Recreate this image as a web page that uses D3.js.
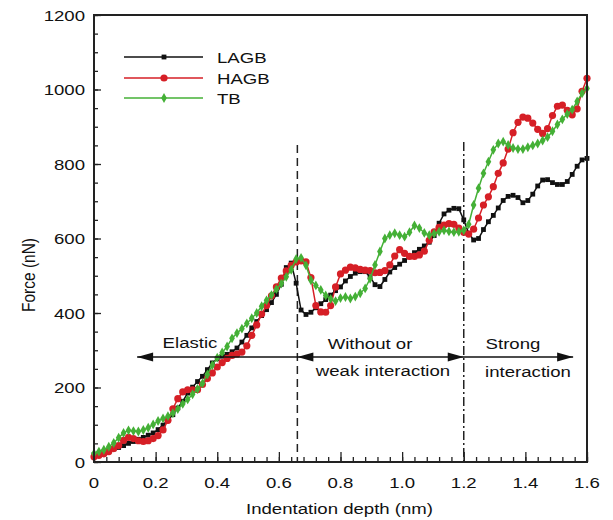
<!DOCTYPE html>
<html>
<head>
<meta charset="utf-8">
<script src="https://cdn.jsdelivr.net/npm/d3@7"></script>
<style>
  html, body { margin: 0; padding: 0; background: #fff; }
  svg { display: block; font-family: "Liberation Sans", Arial, sans-serif; }
</style>
</head>
<body>
<svg id="chart" width="613" height="520"></svg>
<script>
// ---- data ----
const depth = d3.range(101).map(i => +(i * 0.016).toFixed(3)); // nm, sampling grid
const seriesNames = ["LAGB", "HAGB", "TB"];
const lagb = [
  20,23,27,31,35,39,44,50,55,61,
  66,72,78,87,99,113,127,145,163,185,
  201,216,230,248,266,277,284,289,296,306,
  322,340,360,377,393,409,428,450,477,522,
  534,480,408,396,402,414,425,436,448,460,
  470,486,498,507,511,511,497,476,471,490,
  510,522,531,541,551,562,571,580,590,608,
  641,666,676,681,680,650,614,596,600,624,
  645,662,682,702,713,716,710,696,702,719,
  741,757,758,750,745,745,753,772,794,811,
  815];
const hagb = [
  14,18,22,28,36,44,58,66,63,57,
  55,57,63,71,86,112,143,170,188,194,
  194,194,208,224,239,255,267,278,286,290,
  295,312,340,368,397,420,446,470,494,513,
  528,537,540,537,495,420,403,402,420,470,
  505,515,523,521,517,515,514,508,509,514,
  529,553,570,560,552,552,556,566,595,618,
  630,636,640,638,628,617,612,625,655,690,
  712,739,775,803,840,884,912,926,923,910,
  893,882,895,930,955,958,944,932,948,995,
  1030];
const tb = [
  23,28,33,41,51,65,78,85,83,82,
  86,92,101,110,117,123,131,142,156,168,
  182,196,211,235,260,280,294,310,332,346,
  358,372,386,400,418,434,448,464,479,497,
  516,545,548,528,488,474,462,447,438,432,
  440,443,439,444,453,466,492,529,565,600,
  609,614,609,605,617,635,628,615,609,613,
  618,622,619,617,618,622,638,690,735,775,
  806,838,855,860,851,843,840,840,845,850,
  855,863,872,888,906,920,934,946,968,990,
  1003];
const xTickValues = [0, 0.2, 0.4, 0.6, 0.8, 1.0, 1.2, 1.4, 1.6];
const xTickLabels = ["0", "0.2", "0.4", "0.6", "0.8", "1.0", "1.2", "1.4", "1.6"];
const yTickValues = [0, 200, 400, 600, 800, 1000, 1200];
const yTickLabels = ["0", "200", "400", "600", "800", "1000", "1200"];
const regionBounds = [0.66, 1.2];           // dashed / dash-dot lines
const xTitle = "Indentation depth (nm)";
const yTitle = "Force (nN)";

// ---- layout ----
const svg = d3.select("#chart");
const L = 94, R = 587, T = 15, B = 462;
const SX = 1.2; // horizontal stretch of text seen in the reference
const FS = 15.5;
const x = d3.scaleLinear().domain([0, 1.6]).range([L, R]);
const y = d3.scaleLinear().domain([0, 1200]).range([B, T]);
const colors = { LAGB: "#111111", HAGB: "#d61f26", TB: "#44b036" };
const textColor = "#111";

function stretchedText(g, px, py, str, anchor, size) {
  return g.append("text")
    .attr("transform", `translate(${px},${py}) scale(${SX},1)`)
    .attr("text-anchor", anchor || "start")
    .attr("font-size", size || FS)
    .attr("fill", textColor)
    .text(str);
}

// ---- axes (ticks inward) ----
const xMinor = d3.range(0, 1.6001, 0.04).map(v => +v.toFixed(2));
const yMinor = d3.range(0, 1200.1, 50);

const gx = svg.append("g").attr("transform", `translate(0,${B})`);
gx.append("g").call(d3.axisBottom(x).tickValues(xMinor).tickSize(-5).tickFormat(""))
  .call(g => g.select(".domain").remove());
gx.append("g").call(d3.axisBottom(x).tickValues(xTickValues).tickSize(-10).tickFormat(""))
  .call(g => g.select(".domain").remove());
gx.selectAll("line").attr("stroke", "#222").attr("stroke-width", 1.3);

const gy = svg.append("g").attr("transform", `translate(${L},0)`);
gy.append("g").call(d3.axisLeft(y).tickValues(yMinor).tickSize(-4).tickFormat(""))
  .call(g => g.select(".domain").remove());
gy.append("g").call(d3.axisLeft(y).tickValues(yTickValues).tickSize(-7).tickFormat(""))
  .call(g => g.select(".domain").remove());
gy.selectAll("line").attr("stroke", "#222").attr("stroke-width", 1.3);

// tick labels
const labels = svg.append("g");
xTickValues.forEach((v, i) => stretchedText(labels, x(v), B + 26, xTickLabels[i], "middle"));
yTickValues.forEach((v, i) => stretchedText(labels, L - 9, y(v) + 5.5, yTickLabels[i], "end"));

// axis titles
stretchedText(labels, (L + R) / 2 - 1, 514, xTitle, "middle");
svg.append("text")
  .attr("transform", `translate(35,275) scale(${SX},1) rotate(-90)`)
  .attr("text-anchor", "middle").attr("font-size", FS).attr("fill", textColor)
  .text(yTitle);

// ---- region lines ----
svg.append("line")
  .attr("x1", x(regionBounds[0])).attr("x2", x(regionBounds[0]))
  .attr("y1", 145).attr("y2", B)
  .attr("stroke", "#222").attr("stroke-width", 1.5).attr("stroke-dasharray", "8,5");
svg.append("line")
  .attr("x1", x(regionBounds[1])).attr("x2", x(regionBounds[1]))
  .attr("y1", 142).attr("y2", B)
  .attr("stroke", "#222").attr("stroke-width", 1.5).attr("stroke-dasharray", "9,3,2,3");

// ---- series ----
const seriesData = [lagb, hagb, tb];
const line = d3.line().x((d, i) => x(depth[i])).y(d => y(d));
const plot = svg.append("g");
function drawMarker(g, name, cx, cy) {
  if (name === "LAGB") {
    g.append("rect").attr("x", cx - 2.4).attr("y", cy - 2.4).attr("width", 4.8).attr("height", 4.8)
      .attr("fill", colors.LAGB);
  } else if (name === "HAGB") {
    g.append("circle").attr("cx", cx).attr("cy", cy).attr("r", 3.6).attr("fill", colors.HAGB);
  } else {
    g.append("path").attr("transform", `translate(${cx},${cy})`)
      .attr("d", d3.symbol().type(d3.symbolDiamond).size(28)())
      .attr("fill", colors.TB);
  }
}
seriesNames.forEach((name, k) => {
  const g = plot.append("g");
  g.append("path").datum(seriesData[k])
    .attr("d", line).attr("fill", "none")
    .attr("stroke", colors[name]).attr("stroke-width", 1.5);
  seriesData[k].forEach((v, i) => drawMarker(g, name, x(depth[i]), y(v)));
});

// ---- annotation arrows ----
const ann = svg.append("g");
const ay = y(282);
const arrowLeft = x(0.14), arrowRight = x(1.555);
ann.append("line").attr("x1", arrowLeft).attr("x2", arrowRight).attr("y1", ay).attr("y2", ay)
  .attr("stroke", "#111").attr("stroke-width", 1.5);
function head(tipX, dir) { // dir -1 = points left, +1 = points right
  const len = 16, hw = 4.5;
  ann.append("path")
    .attr("d", `M${tipX},${ay} L${tipX - dir * len},${ay - hw} L${tipX - dir * len},${ay + hw} Z`)
    .attr("fill", "#111");
}
head(arrowLeft, -1);
head(x(regionBounds[0]), -1);
head(x(regionBounds[1]), 1);
head(arrowRight, 1);

stretchedText(ann, 190, 348, "Elastic", "middle");
stretchedText(ann, 370, 349, "Without or", "middle");
stretchedText(ann, 383, 376, "weak interaction", "middle");
stretchedText(ann, 513, 349, "Strong", "middle");
stretchedText(ann, 528, 377, "interaction", "middle");

// ---- frame ----
svg.append("rect").attr("x", L).attr("y", T).attr("width", R - L).attr("height", B - T)
  .attr("fill", "none").attr("stroke", "#222").attr("stroke-width", 2);

// ---- legend ----
const leg = svg.append("g");
const legY = [57, 78, 98];
seriesNames.forEach((name, k) => {
  leg.append("line").attr("x1", 124).attr("x2", 203).attr("y1", legY[k]).attr("y2", legY[k])
    .attr("stroke", colors[name]).attr("stroke-width", 1.5);
  drawMarker(leg, name, 164, legY[k]);
  stretchedText(leg, 217, legY[k] + 6, name, "start");
});
</script>
</body>
</html>
